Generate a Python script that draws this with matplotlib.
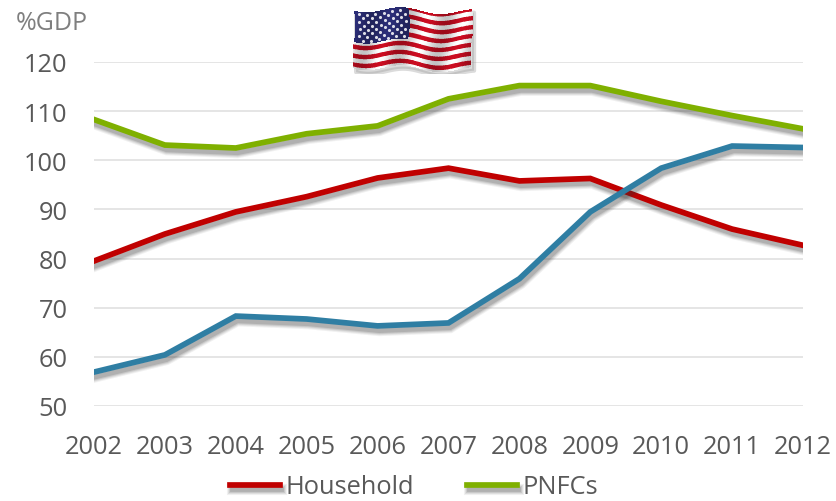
import numpy as np
import matplotlib
matplotlib.use('Agg')
import matplotlib.pyplot as plt
import matplotlib.patheffects as pe

plt.rcParams['font.family'] = ['Open Sans', 'DejaVu Sans']

years = [2002, 2003, 2004, 2005, 2006, 2007, 2008, 2009, 2010, 2011, 2012]
household = [79.5, 85.0, 89.5, 92.6, 96.4, 98.4, 95.8, 96.3, 90.9, 86.0, 82.7]
pnfcs = [108.3, 103.1, 102.5, 105.4, 107.0, 112.5, 115.2, 115.2, 112.0, 109.1, 106.4]
government = [56.9, 60.4, 68.3, 67.7, 66.3, 66.9, 75.9, 89.5, 98.4, 102.9, 102.6]
y_ticks = [50, 60, 70, 80, 90, 100, 110, 120]

RED = '#c00000'
GREEN = '#7fb000'
BLUE = '#2f7ea3'
TEXT = '#595959'
W, H = 836, 502


def soft_shadow():
    # a few wide, faint strokes stacked up to get a blurred drop shadow
    effects = []
    for lw, alpha in [(8.0, 0.07), (6.5, 0.09), (5.0, 0.12), (3.5, 0.16)]:
        effects.append(pe.SimpleLineShadow(offset=(1.2, -3.4), shadow_color='#333333',
                                           alpha=alpha, linewidth=lw))
    effects.append(pe.Normal())
    return effects


fig = plt.figure(figsize=(W / 100, H / 100), dpi=100, facecolor='white')
ax = fig.add_axes([94 / W, 1 - 407 / H, (803 - 94) / W, (407 - 63) / H])

ax.set_xlim(2002, 2012)
ax.set_ylim(50, 120)
ax.set_xticks(years)
ax.set_yticks(y_ticks)
ax.grid(axis='y', color='#dedede', linewidth=1.1)
ax.set_axisbelow(True)
for side in ax.spines.values():
    side.set_visible(False)
ax.tick_params(length=0, labelsize=18.3, labelcolor=TEXT)
ax.tick_params(axis='x', pad=20)
ax.tick_params(axis='y', pad=19)

line_green, = ax.plot(years, pnfcs, color=GREEN, lw=4.1, label='PNFCs',
                      solid_joinstyle='miter', path_effects=soft_shadow())
line_blue, = ax.plot(years, government, color=BLUE, lw=4.1,
                     solid_joinstyle='miter', path_effects=soft_shadow())
line_red, = ax.plot(years, household, color=RED, lw=4.1, label='Household',
                    solid_joinstyle='miter', path_effects=soft_shadow())
# the crossing near 2009/10 has blue on top of red
line_blue.set_zorder(line_red.get_zorder() + 1)

fig.text(16 / W, 1 - 24 / H, '%GDP', fontsize=18, color='#7f7f7f', va='center', ha='left')

fig.legend(handles=[line_red, line_green], loc='center', ncol=2, frameon=False,
           bbox_to_anchor=(414 / W, 1 - 488 / H), fontsize=18.3, labelcolor=TEXT,
           handlelength=1.95, handletextpad=0.22, columnspacing=2.1,
           borderpad=0, borderaxespad=0)

# waving flag above the plot, a warped stripe mesh in its own small axes
fx, fy, fw, fh = 350, 2, 130, 72
flag = fig.add_axes([fx / W, 1 - (fy + fh) / H, fw / W, fh / H])
flag.set_xlim(0, fw)
flag.set_ylim(fh, 0)
flag.axis('off')

u = np.linspace(0, 1, 240)
v = np.linspace(0, 1, 260)
uu, vv = np.meshgrid(u, v)
wave = np.sin(uu * 2 * np.pi * 1.6 + 0.6)
xx = 4 + uu * 118 + 1.5 * np.sin(vv * 6)
yy = 8 + vv * 58 + 3.0 * wave + 3 * uu

# soft-edged stripes so they stay smooth at this small size
stripe = np.clip(0.5 + 1.6 * np.cos(vv * 13 * np.pi), 0, 1)[..., None]
rgb = stripe * np.array([0.80, 0.05, 0.13]) + (1 - stripe) * np.array([1.0, 1.0, 1.0])
canton = (uu < 0.46) & (vv < 7 / 13)
rgb[canton] = np.array([0.17, 0.18, 0.47])
shade = 0.88 + 0.12 * np.cos(uu * 2 * np.pi * 3.2 + vv * 2)
rgb = np.clip(rgb * shade[..., None], 0, 1)

# soft shadow behind the cloth
flag.fill_between(xx[-1] + 2, yy[0, :] + 3, yy[-1, :] + 3, color='#999999', alpha=0.35, lw=3)
flag.pcolormesh(xx, yy, rgb[:-1, :-1], shading='flat', rasterized=True)

star_rows = [(r, c) for r in range(8) for c in range(6)]
su = np.array([(c + 0.5 + 0.5 * (r % 2)) / 6.5 * 0.46 for r, c in star_rows])
sv = np.array([(r + 0.7) / 8.4 * 7 / 13 for r, c in star_rows])
sx = 4 + su * 118 + 1.5 * np.sin(sv * 6)
sy = 8 + sv * 58 + 3.0 * np.sin(su * 2 * np.pi * 1.6 + 0.6) + 3 * su
flag.scatter(sx, sy, s=5, color='white', linewidths=0, alpha=0.85)

plt.savefig('out.png', dpi=100)
